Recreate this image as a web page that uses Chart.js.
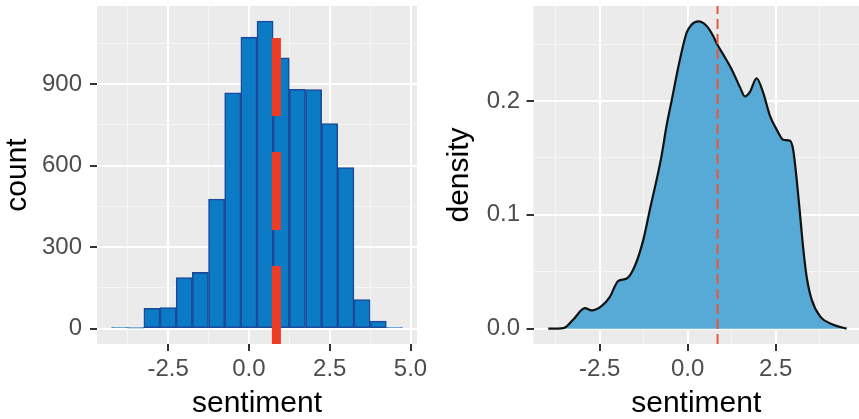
<!DOCTYPE html>
<html>
<head>
<meta charset="utf-8">
<script src="https://cdn.jsdelivr.net/npm/chart.js@4.4.1/dist/chart.umd.min.js"></script>
<style>
  html, body { margin: 0; padding: 0; background: #fff; }
  #wrap { position: relative; width: 859px; height: 419px; overflow: hidden; }
  canvas { position: absolute; top: 0; }
  #histChart { left: 0; }
  #densChart { left: 430px; }
</style>
</head>
<body>
<div id="wrap">
  <canvas id="histChart" width="430" height="419"></canvas>
  <canvas id="densChart" width="429" height="419"></canvas>
</div>
<script>
// Histogram: bins of width 0.5, centred on these sentiment values
const binCenters = [-4, -3.5, -3, -2.5, -2, -1.5, -1, -0.5, 0, 0.5, 1, 1.5, 2, 2.5, 3, 3.5, 4, 4.5];
const binCounts  = [4, 2, 75, 78, 188, 207, 477, 868, 1073, 1132, 997, 881, 880, 755, 593, 107, 28, 4];

// Density curve
const densX = [-3.96, -3.53, -3.25, -2.92, -2.73, -2.44, -2.21, -1.97, -1.73, -1.50, -1.26, -1.07, -0.88, -0.74,
               -0.60, -0.45, -0.25, -0.03, 0.11, 0.30, 0.54, 0.73, 0.82, 1.01, 1.25, 1.49, 1.63, 1.77, 1.96,
               2.15, 2.34, 2.53, 2.72, 2.91, 3.00, 3.10, 3.19, 3.28, 3.38, 3.52, 3.76, 4.14, 4.52];
const densY = [0, 0.0005, 0.008, 0.018, 0.016, 0.020, 0.028, 0.042, 0.044, 0.055, 0.078, 0.105, 0.131, 0.152,
               0.178, 0.201, 0.232, 0.260, 0.267, 0.270, 0.266, 0.257, 0.251, 0.241, 0.228, 0.212, 0.204, 0.208, 0.220,
               0.207, 0.187, 0.175, 0.166, 0.165, 0.157, 0.131, 0.102, 0.072, 0.046, 0.026, 0.011, 0.0035, 0];

const meanSentiment = 0.85;

// axis ticks (major get labels, minor only get faint grid lines)
const histXTicks = [-2.5, 0, 2.5, 5];
const histXMinor = [-3.75, -1.25, 1.25, 3.75];
const histYTicks = [0, 300, 600, 900];
const histYMinor = [150, 450, 750, 1050];
const densXTicks = [-2.5, 0, 2.5];
const densXMinor = [-3.75, -1.25, 1.25, 3.75];
const densYTicks = [0, 0.1, 0.2];
const densYMinor = [0.05, 0.15, 0.25];

const histXRange = [-4.7, 5.2];
const histYRange = [-56.5, 1187.5];
const densXRange = [-4.38, 4.87];
const densYRange = [-0.0135, 0.2835];

Chart.defaults.font.family = '"Liberation Sans", Arial, sans-serif';

// grey ggplot-like panel background
const panelBg = {
  id: 'panelBg',
  beforeDraw(chart) {
    const { ctx, chartArea: a } = chart;
    ctx.save();
    ctx.fillStyle = '#EBEBEB';
    ctx.fillRect(a.left, a.top, a.right - a.left, a.bottom - a.top);
    ctx.restore();
  }
};

function ggScale(major, minor, range, fmt, labelPad, extra) {
  const isMinor = c => !!(c.tick && minor.indexOf(c.tick.value) >= 0);
  return Object.assign({
    type: 'linear',
    min: range[0],
    max: range[1],
    offset: false,
    afterBuildTicks: s => {
      s.ticks = major.concat(minor).sort((a, b) => a - b).map(v => ({ value: v }));
    },
    ticks: {
      autoSkip: false,
      maxRotation: 0,
      padding: labelPad,
      color: '#4D4D4D',
      font: { size: 24 },
      callback: v => (minor.indexOf(v) >= 0 ? '' : fmt(v))
    },
    grid: {
      offset: false,
      color: c => (isMinor(c) ? '#F6F6F6' : '#FFFFFF'),
      lineWidth: c => (isMinor(c) ? 1 : 2),
      tickColor: c => (isMinor(c) ? 'rgba(0,0,0,0)' : '#333333'),
      tickWidth: 2,
      tickLength: 7
    },
    border: { display: false }
  }, extra);
}

function xTitle(text) {
  return { display: true, text, color: '#000', font: { size: 30 }, padding: { top: 0, bottom: -3 } };
}
function yTitle(text, pad) {
  return { display: true, text, color: '#000', font: { size: 30 }, padding: { top: pad, bottom: 0 } };
}

// fixed axis boxes, and no extra room for half tick labels at the ends
function fixX(h) {
  return s => { s.height = h; s.paddingLeft = 0; s.paddingRight = 0; };
}
function fixY(w) {
  return s => { s.width = w; s.paddingTop = 0; s.paddingBottom = 0; };
}

const baseOptions = {
  responsive: false,
  animation: false,
  events: [],
  plugins: { legend: { display: false }, tooltip: { enabled: false } }
};

// Left: histogram of counts
new Chart(document.getElementById('histChart'), {
  type: 'bar',
  data: {
    datasets: [
      {
        type: 'line',
        data: [{ x: meanSentiment, y: histYRange[0] }, { x: meanSentiment, y: histYRange[1] }],
        borderColor: '#EE3B24',
        borderWidth: 9,
        borderDash: [78, 36],
        borderCapStyle: 'butt',
        pointRadius: 0,
        order: 0
      },
      {
        type: 'bar',
        data: binCenters.map((x, i) => ({ x, y: binCounts[i] })),
        backgroundColor: '#0B7BC6',
        borderColor: '#1B4A9A',
        borderWidth: 1.6,
        borderSkipped: false,
        barPercentage: 1,
        categoryPercentage: 1,
        order: 1
      }
    ]
  },
  options: Object.assign({}, baseOptions, {
    layout: { padding: { top: 6, right: 13, left: 0, bottom: 0 } },
    scales: {
      x: ggScale(histXTicks, histXMinor, histXRange, v => v.toFixed(1), 4, {
        title: xTitle('sentiment'),
        afterFit: fixX(75)
      }),
      y: ggScale(histYTicks, histYMinor, histYRange, v => String(v), 8, {
        title: yTitle('count', 0),
        afterFit: fixY(97)
      })
    }
  }),
  plugins: [panelBg]
});

// Right: density curve
new Chart(document.getElementById('densChart'), {
  type: 'line',
  data: {
    datasets: [
      {
        data: [{ x: meanSentiment, y: densYRange[0] }, { x: meanSentiment, y: densYRange[1] }],
        borderColor: '#E4583A',
        borderWidth: 2,
        borderDash: [10, 5],
        pointRadius: 0,
        order: 0
      },
      {
        data: densX.map((x, i) => ({ x, y: densY[i] })),
        borderColor: '#111111',
        borderWidth: 2.2,
        backgroundColor: '#56AAD5',
        fill: 'origin',
        cubicInterpolationMode: 'monotone',
        pointRadius: 0,
        order: 1
      }
    ]
  },
  options: Object.assign({}, baseOptions, {
    layout: { padding: { top: 6, right: 0, left: 0, bottom: 0 } },
    scales: {
      x: ggScale(densXTicks, densXMinor, densXRange, v => v.toFixed(1), 4, {
        title: xTitle('sentiment'),
        afterFit: fixX(75)
      }),
      y: ggScale(densYTicks, densYMinor, densYRange, v => v.toFixed(1), 6.5, {
        title: yTitle('density', 12),
        afterFit: fixY(103.5)
      })
    }
  }),
  plugins: [panelBg]
});
</script>
</body>
</html>
